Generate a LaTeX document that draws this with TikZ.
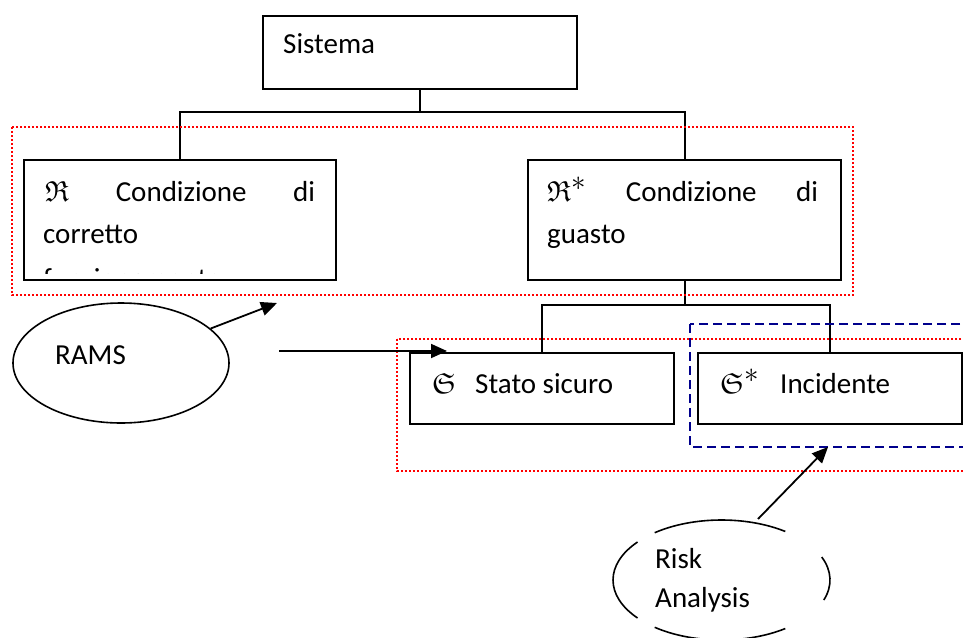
\RequirePackage{fix-cm}
\documentclass[tikz,border=0pt]{standalone}
\usepackage{amsmath,amssymb}
\DeclareFontFamily{U}{euf}{}
\DeclareFontShape{U}{euf}{m}{n}{<-6>eufm5<6-8>eufm7<8->eufm10}{}
\usepackage{fontspec}
\setmainfont{Carlito}
\usepackage{xcolor}
\usepackage{tikz}
\usetikzlibrary{shapes.geometric,arrows.meta,positioning,calc}
\definecolor{zonenavy}{RGB}{0,0,140}
\definecolor{zonered}{RGB}{255,0,0}

\begin{document}
\begin{tikzpicture}[x=1pt, y=-1pt,
            block/.style={rectangle, draw, line width=2.2pt, anchor=north west, inner sep=0pt},
            txt/.style={anchor=base west, inner sep=0pt, font=\fontsize{29}{42}\selectfont},
            oval/.style={ellipse, draw, line width=1.6pt, minimum width=216pt, minimum height=120pt},
            link/.style={line width=2.2pt},
            pointer/.style={line width=1.8pt, -{Triangle[length=16pt, width=14pt]}},
            rams zone/.style={draw=zonered, dash pattern=on 2pt off 2pt, line width=1.3pt},
            risk zone/.style={draw=zonenavy, dash pattern=on 9pt off 5pt, line width=2.2pt}]
            \useasboundingbox (0,0) rectangle (963,637);
            \clip (0,0) rectangle (963,637);

            % Boxes
            \node[block, minimum width=314pt, minimum height=73pt] (sys) at (262,15) {};
            \node[block, minimum width=312pt, minimum height=120pt] (rok) at (23,159) {};
            \node[block, minimum width=313pt, minimum height=120pt] (rko) at (527,159) {};
            \node[block, minimum width=264pt, minimum height=71pt] (sto) at (409,352) {};
            \node[block, minimum width=264pt, minimum height=71pt] (inc) at (697,352) {};

            % Ovals
            \node[oval] (rams) at (121,363) {};
            \node[oval, draw=none, minimum width=217pt] (risk) at (721.5,580) {};
            \foreach \a/\b in {-128/-54, -22.5/19.5, 140.7/219.3, 54/128}
                \draw[line width=1.6pt] (risk.center) ++(\a:108.5 and 60) arc[start angle=\a, end angle=\b, x radius=108.5, y radius=60];

            % Texts
            \node[txt] (sysT) at (283,53) {Sistema};
            \node[txt] (rokA) at (45,201) {\hbox to 270pt{$\mathfrak{R}$\hfill Condizione\hfill di}};
            \node[txt] (rokB) at (43,243) {corretto};
            \begin{scope}
                \clip (rok.north west) rectangle ($(rok.south east)+(0,-8)$);
                \node[txt] (rokC) at (43,288) {funzionamento};
            \end{scope}
            \node[txt] (rkoA) at (547,201) {\hbox to 271pt{$\mathfrak{R}^{\textstyle *}$\hfill Condizione\hfill di}};
            \node[txt] (rkoB) at (547,243) {guasto};
            \node[txt] (stoS) at (432,393) {$\mathfrak{S}$};
            \node[txt] (stoT) at (475,393) {Stato sicuro};
            \node[txt] (incS) at (720,393) {$\mathfrak{S}^{\textstyle *}$};
            \node[txt] (incT) at (780,393) {Incidente};
            \node[txt] (ramsT) at (55,364) {RAMS};
            \node[txt] (riskA) at (655,568) {Risk};
            \node[txt] (riskB) at (655,607) {Analysis};

            % Tree links
            \draw[link] (sys.south) -- ++(0,22) coordinate (fork1) -| (rok.north);
            \draw[link] (fork1) -| (rko.north);
            \draw[link] (rko.south) -- ++(0,24) coordinate (fork2) -| (sto.north);
            \draw[link] (fork2) -| (inc.north);

            % Zones
            \draw[rams zone] (12,127) rectangle (853,295);
            \draw[rams zone] (397,339) rectangle (975,471);
            \draw[risk zone] (690,324) rectangle (975,447);

            % Arrows
            \coordinate (ramsTip) at (277,303);
            \coordinate (hStart) at (279,351);
            \coordinate (hTip) at (447,351);
            \coordinate (riskTop) at (758,519);
            \coordinate (zoneTip) at (828,447);
            \draw[pointer] (rams) -- (ramsTip);
            \draw[pointer] (hStart) -- (hTip);
            \draw[pointer] (riskTop) -- (zoneTip);
        \end{tikzpicture}
\end{document}
